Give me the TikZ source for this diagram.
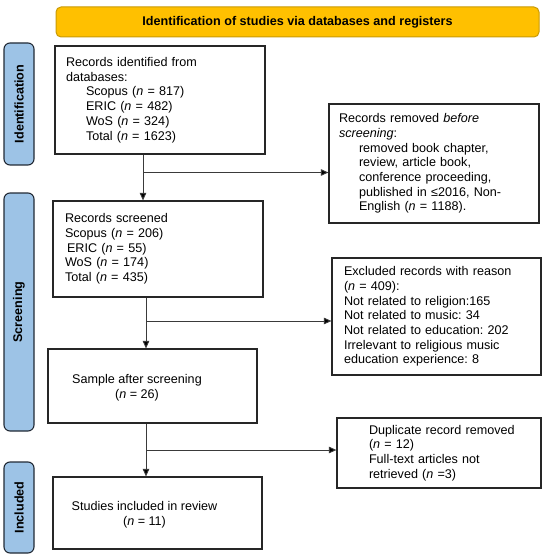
\documentclass[tikz,border=0pt]{standalone}
\usepackage{fontspec}
\setmainfont{Liberation Sans}
\usetikzlibrary{arrows.meta}
\definecolor{bannerfill}{HTML}{FFC000}
\definecolor{bannerdraw}{HTML}{C99A06}
\definecolor{labelfill}{HTML}{9DC3E6}
\definecolor{labeldraw}{HTML}{222A35}
\definecolor{boxdraw}{HTML}{262626}
\definecolor{linedraw}{HTML}{3A3A3A}
\begin{document}
\frenchspacing
\begin{tikzpicture}[x=1pt,y=-1pt,
  txt/.style={font=\fontsize{12.6}{14.7}\selectfont},
  box/.style={draw=boxdraw, line width=1.2pt, rectangle, inner sep=0pt, txt},
  lbox/.style={box, align=left, inner xsep=#1, inner ysep=0pt},
  ebox/.style={box},
  ctext/.style={txt, align=center, inner sep=0pt},
  banner/.style={draw=bannerdraw, fill=bannerfill, line width=1pt, rounded corners=5pt,
    font=\fontsize{12.6}{14.7}\selectfont\bfseries, inner sep=0pt},
  phase/.style={draw=labeldraw, fill=labelfill, line width=1.1pt, rounded corners=6pt,
    rotate=90, minimum height=30pt, inner sep=0pt,
    font=\fontsize{12.6}{14.7}\selectfont\bfseries},
  arr/.style={draw=linedraw, line width=0.9pt, -{Triangle[length=7.5pt,width=6.5pt,fill=black]}},
  branch/.style={arr}
]
\useasboundingbox (0,0) rectangle (550,556);

% banner
\node[banner, minimum width=483pt, minimum height=30pt] (head) at (297.5,22)
  {Identification of studies via databases and registers};

% phase labels
\node[phase, minimum width=122pt] (lident) at (19,104) {Identification};
\node[phase, minimum width=238pt] (lscreen) at (19,312) {Screening};
\node[phase, minimum width=91pt] (lincl) at (19,507.5) {Included};

% boxes
\node[lbox=11pt, text width=188pt, minimum height=108pt] (ident) at (160,100)
  {Records identified from\\databases:\\
   \hspace*{20pt}Scopus (\textit{n} = 817)\\
   \hspace*{20pt}ERIC (\textit{n} = 482)\\
   \hspace*{20pt}WoS (\textit{n} = 324)\\
   \hspace*{20pt}Total (\textit{n} = 1623)};

\node[lbox=10pt, text width=190pt, minimum height=119pt] (removed) at (434,163.5)
  {Records removed \textit{before}\\\textit{screening}:\\
   \hspace*{20pt}removed book chapter,\\
   \hspace*{20pt}review, article book,\\
   \hspace*{20pt}conference proceeding,\\
   \hspace*{20pt}published in ≤2016, Non-\\
   \hspace*{20pt}English (\textit{n} = 1188).};

\node[lbox=12pt, text width=186pt, minimum height=96pt] (screened) at (158,249)
  {Records screened\\
   Scopus (\textit{n} = 206)\\
   \hspace*{2pt}ERIC (\textit{n} = 55)\\
   WoS (\textit{n} = 174)\\
   Total (\textit{n} = 435)};

\node[lbox=12pt, text width=185pt, minimum height=117pt] (excluded) at (436.5,316.5)
  {Excluded records with reason\\
   (\textit{n} = 409):\\
   Not related to religion:165\\
   Not related to music: 34\\
   Not related to education: 202\\
   Irrelevant to religious music\\
   education experience: 8};

\node[ebox, minimum width=209pt, minimum height=74pt] (sample) at (152.5,386) {};
\node[ctext] (sampletext) at (137,387.5) {Sample after screening\\(\textit{n} = 26)};

\node[lbox=12pt, text width=180pt, minimum height=70pt] (dup) at (439,453)
  {\hspace*{20pt}Duplicate record removed\\
   \hspace*{20pt}(\textit{n} = 12)\\
   \hspace*{20pt}Full-text articles not\\
   \hspace*{20pt}retrieved (\textit{n} =3)};

\node[ebox, minimum width=209pt, minimum height=72pt] (final) at (157.5,513) {};
\node[ctext] (finaltext) at (144.5,514.5) {Studies included in review\\(\textit{n} = 11)};

% connectors
\coordinate (j1) at (143,172.5);
\coordinate (j2) at (146,321);
\coordinate (j3) at (146,450);

\draw[arr] (ident.south -| j1) -- (screened.north -| j1);
\draw[branch] (j1) -- (j1 -| removed.west);

\draw[arr] (screened.south -| j2) -- (sample.north -| j2);
\draw[branch] (j2) -- (j2 -| excluded.west);

\draw[arr] (sample.south -| j3) -- (final.north -| j3);
\draw[branch] (j3) -- (j3 -| dup.west);
\end{tikzpicture}
\end{document}
